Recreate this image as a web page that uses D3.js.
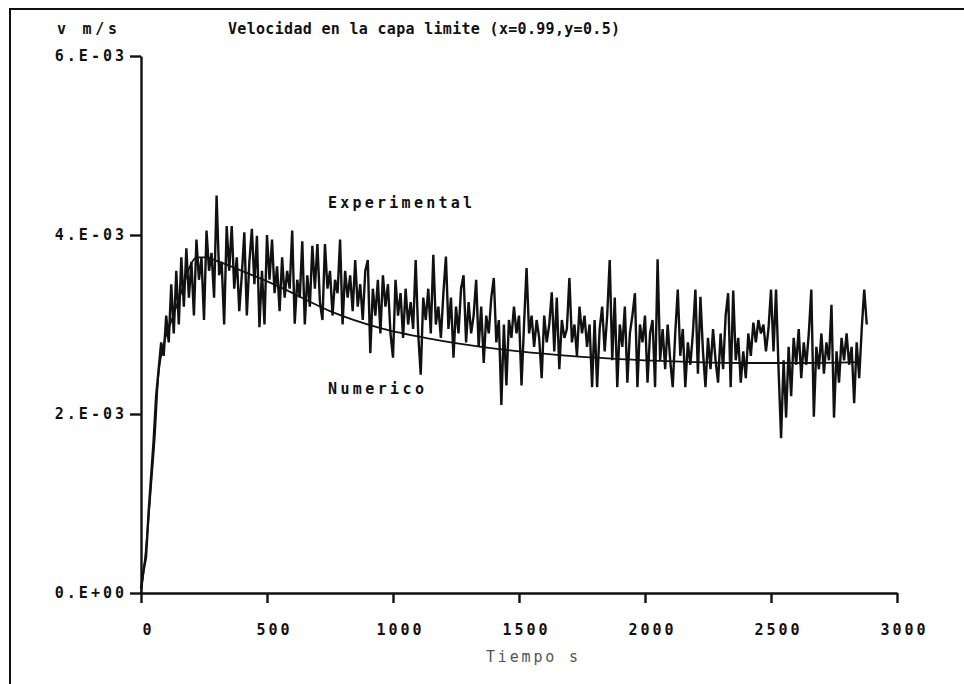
<!DOCTYPE html>
<html>
<head>
<meta charset="utf-8">
<script src="https://cdn.jsdelivr.net/npm/d3@7"></script>
<style>
  body { margin: 0; background: #fff; }
  svg text { font-family: "DejaVu Sans Mono", monospace; font-size: 15px; fill: #111; font-weight: bold; }
</style>
</head>
<body>
<svg width="964" height="684"></svg>
<script>
// velocities are kept in units of 1e-3 m/s

// numerical solution
const numT = [0, 20, 40, 56, 68, 88, 122, 167, 194, 222, 260, 300, 400, 550, 750, 950,
              1150, 1350, 1650, 2000, 2200, 2400, 2600, 2850];
const numV = [0, 0.5, 1.2, 1.8, 2.4, 2.75, 3.05, 3.42, 3.65, 3.75, 3.75, 3.71, 3.6, 3.42, 3.15, 2.96,
              2.84, 2.75, 2.66, 2.6, 2.58, 2.57, 2.57, 2.58];

// experimental record, one reading every 10 s
const expV = [
  0.05, 0.25, 0.4, 0.9, 1.3, 1.7, 2.2, 2.5, 2.8, 2.65,      // 0
  3.1, 2.8, 3.45, 2.9, 3.6, 3.0, 3.75, 3.2, 3.85, 3.3,      // 100
  3.7, 3.1, 3.95, 3.5, 3.75, 3.05, 4.05, 3.6, 3.8, 3.3,     // 200
  4.44, 3.55, 3.7, 3.0, 4.1, 3.6, 4.1, 3.4, 3.75, 3.15,     // 300
  3.55, 4.03, 3.1, 3.7, 4.07, 3.45, 3.99, 2.97, 3.6, 3.0,   // 400
  4.0, 3.5, 3.95, 3.35, 3.65, 3.15, 3.75, 3.3, 3.6, 3.4,    // 500
  4.05, 3.01, 3.5, 3.3, 3.93, 3.0, 3.55, 3.2, 3.88, 3.4,    // 600
  3.9, 3.25, 3.05, 3.9, 3.4, 3.6, 3.1, 3.5, 3.35, 3.95,     // 700
  3.0, 3.6, 3.3, 3.55, 3.15, 3.72, 3.2, 3.45, 3.05, 3.6,    // 800
  3.72, 2.68, 3.4, 3.1, 3.5, 2.9, 3.55, 3.2, 3.45, 2.9,     // 900
  2.63, 3.5, 3.1, 3.35, 2.85, 3.4, 3.0, 3.25, 2.95, 3.72,   // 1000
  2.9, 2.44, 3.3, 3.05, 3.4, 2.9, 3.78, 3.0, 3.2, 2.85,     // 1100
  3.35, 3.76, 2.95, 3.3, 2.63, 3.2, 2.9, 3.4, 3.55, 2.8,    // 1200
  3.25, 2.9, 3.1, 3.5, 2.75, 3.2, 2.57, 3.1, 2.9, 3.3,      // 1300
  3.52, 2.8, 3.05, 2.1, 3.0, 2.32, 3.05, 2.85, 3.2, 2.9,    // 1400
  3.1, 2.32, 3.0, 3.63, 2.9, 3.1, 2.75, 3.05, 2.85, 2.4,    // 1500
  3.1, 2.8, 3.0, 3.36, 2.7, 3.3, 2.5, 3.05, 2.85, 2.95,     // 1600
  3.52, 2.8, 3.0, 2.65, 3.2, 2.9, 3.1, 2.75, 3.0, 2.3,      // 1700
  3.05, 2.3, 2.95, 3.2, 2.7, 3.1, 3.72, 2.6, 3.3, 2.3,      // 1800
  3.0, 2.75, 3.2, 2.35, 2.9, 3.1, 3.35, 2.3, 3.0, 2.8,      // 1900
  3.1, 2.35, 2.9, 3.05, 2.3, 3.73, 2.6, 2.95, 2.5, 3.0,     // 2000
  2.6, 2.3, 2.9, 3.39, 2.65, 2.95, 2.3, 2.8, 2.55, 2.9,     // 2100
  3.39, 2.45, 3.31, 2.7, 2.3, 2.85, 2.5, 2.95, 2.6, 2.35,   // 2200
  2.9, 2.5, 3.1, 3.35, 2.3, 3.38, 2.6, 2.85, 2.35, 2.7,     // 2300
  2.4, 2.9, 2.65, 3.02, 2.8, 3.05, 2.9, 3.0, 2.7, 2.95,     // 2400
  3.39, 2.7, 3.39, 2.5, 1.73, 2.6, 1.96, 2.75, 2.2, 2.85,   // 2500
  2.55, 2.95, 2.4, 2.8, 2.55, 2.9, 3.39, 1.97, 2.75, 2.5,   // 2600
  2.9, 2.45, 2.8, 2.6, 3.22, 1.96, 2.7, 2.35, 2.85, 2.6,    // 2700
  2.9, 2.55, 2.75, 2.12, 2.8, 2.4, 2.95, 3.39, 3.0          // 2800
];
const expT = d3.range(expV.length).map(i => i * 10);

const xTicks = [0, 500, 1000, 1500, 2000, 2500, 3000];
const xLabels = ['0', '500', '1000', '1500', '2000', '2500', '3000'];
const yTicks = [0, 2, 4, 6];
const yLabels = ['0.E+00', '2.E-03', '4.E-03', '6.E-03'];

const svg = d3.select('svg');

const x = d3.scaleLinear().domain([0, 3000]).range([141, 897]);
const y = d3.scaleLinear().domain([0, 6]).range([593, 56]);

// scanned page frame (top and left edges only)
svg.append('path')
   .attr('d', 'M10,684V9H964')
   .attr('fill', 'none')
   .attr('stroke', '#111')
   .attr('stroke-width', 2);

const gX = svg.append('g')
   .attr('transform', `translate(0,${y(0)})`)
   .call(d3.axisBottom(x).tickValues(xTicks).tickFormat((d, i) => xLabels[i])
         .tickSize(10).tickSizeOuter(0).tickPadding(21));

const gY = svg.append('g')
   .attr('transform', `translate(${x(0)},0)`)
   .call(d3.axisLeft(y).tickValues(yTicks).tickFormat((d, i) => yLabels[i])
         .tickSize(11).tickSizeOuter(0).tickPadding(3));

[gX, gY].forEach(g => {
  g.attr('font-family', null).attr('font-size', null);
  g.selectAll('path, line').attr('stroke', '#111').attr('stroke-width', 2.4);
  g.selectAll('text').attr('letter-spacing', 3);
});
gX.selectAll('text').attr('x', 7);

// experimental line
const lineExp = d3.line().x((d, i) => x(expT[i])).y(d => y(d));
svg.append('path')
   .attr('d', lineExp(expV))
   .attr('fill', 'none')
   .attr('stroke', '#111')
   .attr('stroke-width', 2.4)
   .attr('stroke-linejoin', 'miter');

// numerical line
const lineNum = d3.line().x((d, i) => x(numT[i])).y(d => y(d)).curve(d3.curveMonotoneX);
svg.append('path')
   .attr('d', lineNum(numV))
   .attr('fill', 'none')
   .attr('stroke', '#111')
   .attr('stroke-width', 1.8);

// texts
const addText = (txt, px, py, len) => {
  const t = svg.append('text').attr('x', px).attr('y', py).attr('dy', '0.35em').text(txt);
  if (len) t.attr('textLength', len).attr('lengthAdjust', 'spacing');
  return t;
};
addText('v m/s', 57, 29, 60);
addText('Velocidad en la capa limite (x=0.99,y=0.5)', 228, 29, 392);
addText('Experimental', 328, 203, 144);
addText('Numerico', 328, 389, 96);
addText('Tiempo s', 486, 657, 92).style('fill', '#555').style('font-weight', 'normal');
</script>
</body>
</html>
